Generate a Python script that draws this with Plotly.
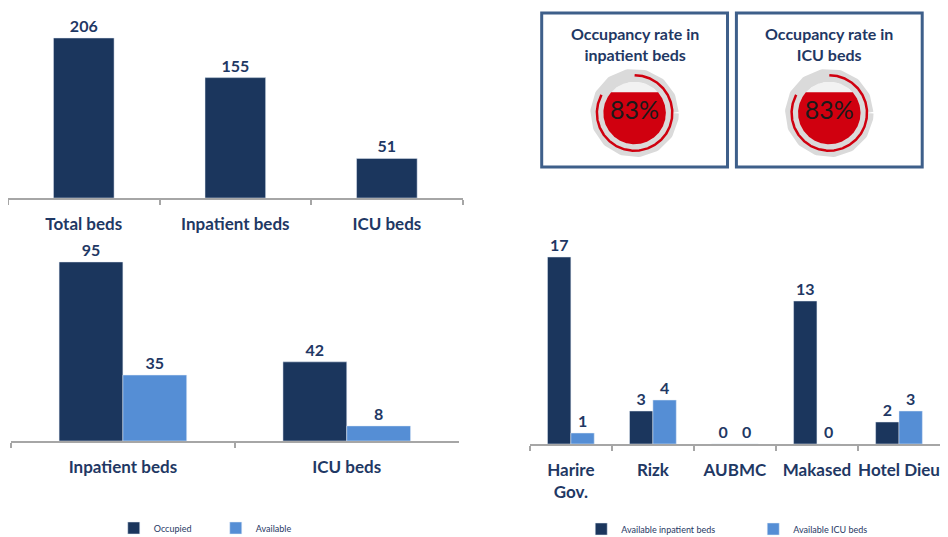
import numpy as np
import plotly.graph_objects as go

# ---- data ----
total_labels = ["Total beds", "Inpatient beds", "ICU beds"]
total_values = [206, 155, 51]

bed_types = ["Inpatient beds", "ICU beds"]
occupied = [95, 42]
available = [35, 8]

hospitals = ["Harire<br>Gov.", "Rizk", "AUBMC", "Makased", "Hotel Dieu"]
avail_inpatient = [17, 3, 0, 13, 2]
avail_icu = [1, 4, 0, 0, 3]

gauge_titles = ["Occupancy rate in<br>inpatient beds", "Occupancy rate in<br>ICU beds"]
gauge_rates = [0.83, 0.83]

# the page body keeps an 8px margin, so the visible plot area is 932 x 529
W, H = 932, 529
X0, SX = 5, 932 / 943   # layout x positions below are given on a 948px-wide sketch
Y0 = 8
NAVY = "#1b365d"
LIGHT = "#558ed5"
TEXT = "#1f3864"
AXIS = "#a6a6a6"
RED = "#d0000f"
FONT = "Lato"


def fx(p):
    return min(max((p - X0) * SX / W, 0), 1)


def fy(p):
    return min(max(1 - (p - Y0) / H, 0), 1)


def px_x(a, b):
    return [fx(a), fx(b)]


def px_y(top, bottom):
    return [fy(bottom), fy(top)]


fig = go.Figure()

label_font = dict(family=FONT, size=16, color=TEXT, weight="bold")

# top-left: total beds
fig.add_trace(go.Bar(
    x=total_labels, y=total_values, width=0.4,
    marker_color=NAVY, text=total_values, textposition="outside",
    textfont=label_font, cliponaxis=False, showlegend=False,
    xaxis="x", yaxis="y"
))

# bottom-left: occupied vs available
fig.add_trace(go.Bar(
    x=bed_types, y=occupied, name="Occupied", marker_color=NAVY,
    text=occupied, textposition="outside", textfont=label_font,
    cliponaxis=False, xaxis="x2", yaxis="y2", legend="legend"
))
fig.add_trace(go.Bar(
    x=bed_types, y=available, name="Available", marker_color=LIGHT,
    text=available, textposition="outside", textfont=label_font,
    cliponaxis=False, xaxis="x2", yaxis="y2", legend="legend"
))

# bottom-right: available beds per hospital
fig.add_trace(go.Bar(
    x=hospitals, y=avail_inpatient, name="Available inpatient beds",
    marker_color=NAVY, text=avail_inpatient, textposition="outside",
    textfont=label_font, cliponaxis=False, xaxis="x3", yaxis="y3",
    legend="legend2"
))
fig.add_trace(go.Bar(
    x=hospitals, y=avail_icu, name="Available ICU beds",
    marker_color=LIGHT, text=avail_icu, textposition="outside",
    textfont=label_font, cliponaxis=False, xaxis="x3", yaxis="y3",
    legend="legend2"
))

# gauges
gauge_centers = [639, 836]
gauge_cy = 113
half = 46
ring_r = 0.82
disk_r = 0.68
theta = np.linspace(0, 2 * np.pi, 361)
for i, (rate, cx) in enumerate(zip(gauge_rates, gauge_centers)):
    xa, ya = f"x{4 + i}", f"y{4 + i}"
    # grey ring
    fig.add_trace(go.Scatter(
        x=ring_r * np.cos(theta), y=ring_r * np.sin(theta), mode="lines",
        line=dict(color="#dadada", width=13), hoverinfo="skip",
        showlegend=False, xaxis=xa, yaxis=ya
    ))
    # red progress arc, clockwise from 12 o'clock
    ang = np.pi / 2 - np.linspace(0, 2 * np.pi * rate, 300)
    fig.add_trace(go.Scatter(
        x=ring_r * np.cos(ang), y=ring_r * np.sin(ang), mode="lines",
        line=dict(color=RED, width=2.5), hoverinfo="skip",
        showlegend=False, xaxis=xa, yaxis=ya
    ))
    # empty disk
    fig.add_trace(go.Scatter(
        x=disk_r * np.cos(theta), y=disk_r * np.sin(theta), mode="lines",
        fill="toself", fillcolor="#f2f2f2", line=dict(width=0),
        hoverinfo="skip", showlegend=False, xaxis=xa, yaxis=ya
    ))
    # liquid fill up to the rate
    yc = disk_r * (2 * rate - 1)
    a = np.arcsin(yc / disk_r)
    seg = np.linspace(a, -np.pi - a, 300)
    fig.add_trace(go.Scatter(
        x=disk_r * np.cos(seg), y=disk_r * np.sin(seg), mode="lines",
        fill="toself", fillcolor=RED, line=dict(width=0),
        hoverinfo="skip", showlegend=False, xaxis=xa, yaxis=ya
    ))
    fig.add_trace(go.Scatter(
        x=[0], y=[0], mode="text", text=[f"{rate * 100:.0f}%"],
        textposition="middle center",
        textfont=dict(family=FONT, size=25, color="#1a1a1a"),
        hoverinfo="skip", showlegend=False, xaxis=xa, yaxis=ya
    ))

cat_axis = dict(
    type="category", showline=True, linecolor=AXIS, linewidth=1.5,
    ticks="outside", tickson="boundaries", tickcolor=AXIS, tickwidth=1.5,
    ticklen=5, showgrid=False, zeroline=False, automargin=False,
    tickangle=0,
    tickfont=dict(family=FONT, size=17, color=TEXT, weight="bold"),
    ticklabelstandoff=10, fixedrange=True
)
val_axis = dict(visible=False, showgrid=False, zeroline=False, fixedrange=True)
gauge_axis = dict(visible=False, range=[-1, 1], fixedrange=True)


def gauge_x(cx):
    c = fx(cx)
    return [c - half / W, c + half / W]


shapes = []
annotations = []
for cx, title in zip(gauge_centers, gauge_titles):
    shapes.append(dict(
        type="rect", xref="paper", yref="paper",
        x0=fx(cx - 94), x1=fx(cx + 94), y0=fy(167), y1=fy(13),
        line=dict(color="#3e5f8a", width=3), fillcolor="rgba(0,0,0,0)"
    ))
    annotations.append(dict(
        text=title, xref="paper", yref="paper", x=fx(cx), y=fy(44),
        xanchor="center", yanchor="middle", showarrow=False,
        font=dict(family=FONT, size=16, color=TEXT, weight="bold")
    ))

fig.update_layout(
    width=W, height=H,
    margin=dict(l=0, r=0, t=0, b=0, autoexpand=False),
    paper_bgcolor="white", plot_bgcolor="rgba(0,0,0,0)",
    font=dict(family=FONT, color=TEXT),
    barmode="group", bargap=0.43, bargroupgap=0,
    xaxis=dict(cat_axis, domain=px_x(5, 465), range=[-0.5, 2.5], anchor="y"),
    yaxis=dict(val_axis, domain=px_y(15, 198), range=[0, 235.6], anchor="x"),
    xaxis2=dict(cat_axis, domain=px_x(8, 461), range=[-0.5, 1.5], anchor="y2"),
    yaxis2=dict(val_axis, domain=px_y(245, 441), range=[0, 104], anchor="x2"),
    xaxis3=dict(cat_axis, domain=px_x(533, 948), range=[-0.5, 4.5], anchor="y3"),
    yaxis3=dict(val_axis, domain=px_y(235, 444), range=[0, 19], anchor="x3"),
    xaxis4=dict(gauge_axis, domain=gauge_x(gauge_centers[0]), anchor="y4"),
    yaxis4=dict(gauge_axis, domain=px_y(gauge_cy - half, gauge_cy + half), anchor="x4"),
    xaxis5=dict(gauge_axis, domain=gauge_x(gauge_centers[1]), anchor="y5"),
    yaxis5=dict(gauge_axis, domain=px_y(gauge_cy - half, gauge_cy + half), anchor="x5"),
    legend=dict(
        orientation="h", x=fx(112), y=fy(528), xanchor="left", yanchor="middle",
        entrywidth=57, entrywidthmode="pixels", itemwidth=30,
        font=dict(family=FONT, size=9, color=TEXT), bgcolor="rgba(0,0,0,0)"
    ),
    legend2=dict(
        orientation="h", x=fx(585), y=fy(529), xanchor="left", yanchor="middle",
        entrywidth=127, entrywidthmode="pixels", itemwidth=30,
        font=dict(family=FONT, size=9, color=TEXT), bgcolor="rgba(0,0,0,0)"
    ),
    shapes=shapes,
    annotations=annotations,
)

fig.write_html("out.html")
